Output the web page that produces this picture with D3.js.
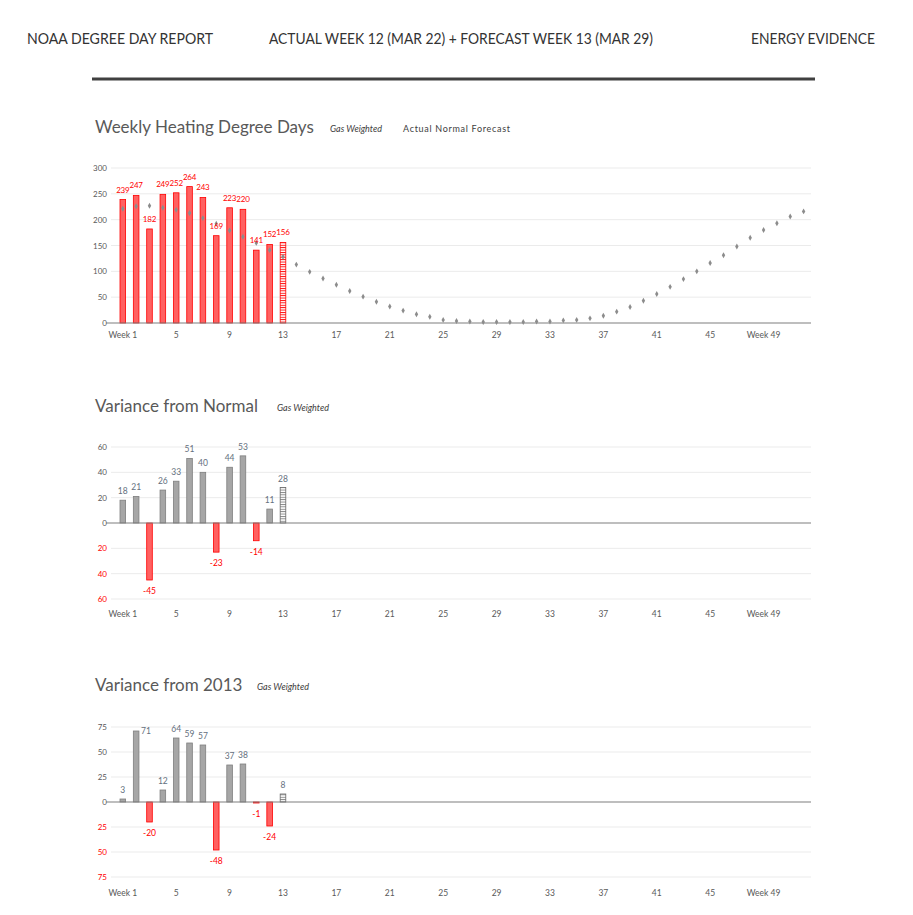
<!DOCTYPE html>
<html><head><meta charset="utf-8">
<script src="https://cdn.jsdelivr.net/npm/d3@7/dist/d3.min.js"></script>
<style>
body{margin:0;background:#fff;}
svg{display:block;font-family:Lato,"Open Sans",sans-serif;}
</style></head>
<body>
<svg id="c" width="913" height="915"></svg>
<script>
// ---- data ----
const weeks = d3.range(1, 53);
const tickWeeks = [1,5,9,13,17,21,25,29,33,37,41,45,49];
const tickLabels = ["Week 1","5","9","13","17","21","25","29","33","37","41","45","Week 49"];
const actualWeeks = [1,2,3,4,5,6,7,8,9,10,11,12];
const actualHDD = [239,247,182,249,252,264,243,169,223,220,141,152];
const forecastWeek = 13;
const forecastHDD = 156;
const normalHDD = [221,226,227,223,219,213,203,192,179,167,155,141,128,
  113,99,86,74,62,51,41,32,24,17,12,6,4,3,2,2,2,2,3,3,5,6,9,14,22,31,43,56,70,85,100,116,131,148,165,180,193,206,216];
const varNormalWeeks = [1,2,3,4,5,6,7,8,9,10,11,12,13];
const varNormal = [18,21,-45,26,33,51,40,-23,44,53,-14,11,28];
const var2013 = [3,71,-20,12,64,59,57,-48,37,38,-1,-24,8];
const hddTicks = [0,50,100,150,200,250,300];
const varNormalTicks = [-60,-40,-20,0,20,40,60];
const var2013Ticks = [-75,-50,-25,0,25,50,75];
const headerTexts = ["NOAA DEGREE DAY REPORT","ACTUAL WEEK 12 (MAR 22) + FORECAST WEEK 13 (MAR 29)","ENERGY EVIDENCE"];

const svg = d3.select("#c");
const RED = "#ff0000", REDF = "#ff6161", GRAYF = "#a6a6a6", GRAYS = "#7f7f7f", TXT = "#595959", LBL="#64707e";

// patterns
const defs = svg.append("defs");
function hatch(id, col){
  const p = defs.append("pattern").attr("id", id).attr("patternUnits","userSpaceOnUse")
    .attr("width", 6).attr("height", 2.4);
  p.append("rect").attr("width",6).attr("height",2.4).attr("fill","#fff");
  p.append("rect").attr("y",0).attr("width",6).attr("height",0.9).attr("fill",col);
}
hatch("hr", RED); hatch("hg", "#808080");

// header
const hx = [27, 269, 751], hw = [186, 384, 124];
headerTexts.forEach((t,i)=>{
  svg.append("text").attr("x",hx[i]).attr("y",44).attr("font-size",15).attr("fill","#333")
    .attr("textLength",hw[i]).attr("lengthAdjust","spacingAndGlyphs").text(t);
});
svg.append("line").attr("x1",92).attr("x2",815).attr("y1",79).attr("y2",79)
  .attr("stroke","#404040").attr("stroke-width",3);

const x = d3.scaleLinear().domain([1,52]).range([122.8, 803.6]);
const BW = 5.6;
const X0 = 106, XG = 111, X1 = 811;

function frame(y, ticks, tickFmt, bottomY, xOff, title, titleY, sub, subX, extra){
  const g = svg.append("g");
  g.append("text").attr("x",95).attr("y",titleY).attr("font-size",17).attr("fill",TXT).text(title);
  g.append("text").attr("x",subX).attr("y",titleY-1).attr("font-size",9).attr("font-style","italic").attr("fill","#404040").text(sub);
  if (extra) g.append("text").attr("x",403).attr("y",titleY-1).attr("font-size",9).attr("fill","#404040")
    .attr("textLength",107).attr("lengthAdjust","spacing").text(extra);
  // gridlines
  g.selectAll("line.grid").data(ticks.filter(t=>t!==0)).join("line")
    .attr("x1",XG).attr("x2",X1).attr("y1",d=>y(d)).attr("y2",d=>y(d))
    .attr("stroke","#ebebeb").attr("stroke-width",1);
  // y labels
  g.selectAll("text.yt").data(ticks).join("text")
    .attr("x",107).attr("y",d=>y(d)+3).attr("text-anchor","end").attr("font-size",8)
    .attr("fill",d=>d<0?RED:TXT).text(tickFmt);
  // x labels
  g.selectAll("text.xt").data(tickWeeks).join("text")
    .attr("x",d=>x(d)).attr("y",bottomY+xOff).attr("text-anchor","middle").attr("font-size",8.5)
    .attr("fill",TXT).text((d,i)=>tickLabels[i]);
  return g;
}
function baseline(g, y){
  g.append("line").attr("x1",X0).attr("x2",X1).attr("y1",y(0)).attr("y2",y(0))
    .attr("stroke","#7f7f7f").attr("stroke-width",1.2);
}

// ---- chart 1 ----
{
  const y = d3.scaleLinear().domain([0,300]).range([323,168]);
  const g = frame(y, hddTicks, d=>d, 323, 15, "Weekly Heating Degree Days", 133, "Gas Weighted", 330, "Actual Normal Forecast");
  const data = actualWeeks.map((w,i)=>({w, v:actualHDD[i]}));
  g.selectAll("rect.a").data(data).join("rect")
    .attr("x",d=>x(d.w)-BW/2).attr("width",BW).attr("y",d=>y(d.v)).attr("height",d=>y(0)-y(d.v))
    .attr("fill",REDF).attr("stroke",RED).attr("stroke-width",0.8);
  g.append("rect").attr("x",x(forecastWeek)-BW/2).attr("width",BW).attr("y",y(forecastHDD))
    .attr("height",y(0)-y(forecastHDD)).attr("fill","url(#hr)").attr("stroke",RED).attr("stroke-width",0.8);
  baseline(g, y);
  const nd = weeks.map((w,i)=>({w, v:normalHDD[i]}));
  g.selectAll("path.n").data(nd).join("path")
    .attr("d", d3.symbol(d3.symbolDiamond, 10))
    .attr("transform",d=>`translate(${x(d.w)},${y(d.v)})`).attr("fill","#8c8c8c");
  const lab = data.concat([{w:forecastWeek, v:forecastHDD}]);
  g.selectAll("text.l").data(lab).join("text")
    .attr("x",d=>x(d.w)).attr("y",d=>y(d.v)-7).attr("text-anchor","middle").attr("font-size",8)
    .attr("letter-spacing",-0.2).attr("fill",RED).text(d=>d.v);
}

function varChart(vals, ticks, domainMax, top, bottom, xOff, title, titleY, subX){
  const y = d3.scaleLinear().domain([-domainMax, domainMax]).range([bottom, top]);
  const g = frame(y, ticks, d=>Math.abs(d), bottom, xOff, title, titleY, "Gas Weighted", subX);
  const data = varNormalWeeks.map((w,i)=>({w, v:vals[i], f: w===forecastWeek}));
  g.selectAll("rect.b").data(data).join("rect")
    .attr("x",d=>x(d.w)-BW/2).attr("width",BW)
    .attr("y",d=>y(Math.max(0,d.v))).attr("height",d=>Math.abs(y(d.v)-y(0)))
    .attr("fill",d=>d.f?"url(#hg)":(d.v<0?REDF:GRAYF))
    .attr("stroke",d=>d.f?"#666":(d.v<0?RED:GRAYS)).attr("stroke-width",0.8);
  baseline(g, y);
  g.selectAll("text.l").data(data).join("text")
    .attr("x",d=> (d.v>0 && y(d.v)-8 < top) ? x(d.w)+BW/2+7 : x(d.w))
    .attr("y",d=> d.v<0 ? y(d.v)+14 : ((y(d.v)-8 < top) ? y(d.v)+3 : y(d.v)-6))
    .attr("text-anchor","middle").attr("font-size",8.5)
    .attr("fill",d=>d.v<0?RED:LBL).text(d=>d.v);
}
varChart(varNormal, varNormalTicks, 60, 447, 599, 18, "Variance from Normal", 412, 277);
varChart(var2013, var2013Ticks, 75, 727, 877, 19, "Variance from 2013", 691, 257);
</script>
</body></html>
